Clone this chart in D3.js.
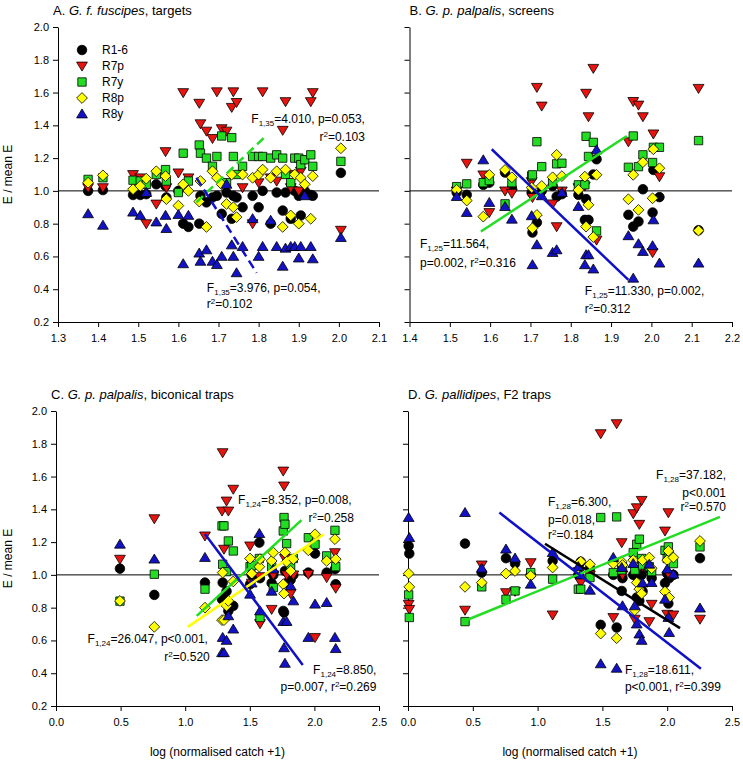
<!DOCTYPE html>
<html>
<head>
<meta charset="utf-8">
<script src="https://cdn.jsdelivr.net/npm/d3@7"></script>
<style>
body { margin: 0; background: #fff; }
text { font-family: "Liberation Sans", Arial, sans-serif; fill: #000; }
</style>
</head>
<body>
<script>
// series, in legend / drawing order
var series = ["R1-6", "R7p", "R7y", "R8p", "R8y"];

// ---- panel A: G. f. fuscipes, targets ----
var xA    = [1.375,1.412,1.487,1.505,1.52,1.545,1.568,1.57,1.60,1.612,1.625,1.652,1.655,1.67,1.685,1.696,1.708,1.72,1.733,1.737,1.745,1.76,1.785,1.80,1.81,1.83,1.845,1.86,1.867,1.88,1.89,1.90,1.905,1.915,1.93,1.935,2.005];
var r16A  = [1.00,1.005,0.975,0.975,0.98,1.04,1.03,0.96,1.00,0.80,0.78,0.80,0.97,0.93,0.96,0.97,0.86,0.99,0.83,0.97,0.96,0.90,0.97,0.90,1.00,0.80,0.99,0.88,0.99,0.83,1.00,0.97,0.85,1.00,0.975,0.97,1.11];
var r7pA  = [1.02,1.02,1.10,1.08,0.80,0.92,1.24,1.02,1.11,1.60,1.08,1.535,1.41,1.365,1.32,1.605,1.38,1.365,1.51,1.605,1.54,1.02,0.80,1.05,1.605,1.08,1.06,1.37,1.545,1.02,1.10,1.00,1.12,1.19,1.545,1.60,0.76];
var r7yA  = [1.07,1.08,1.065,1.06,1.04,1.10,1.13,1.06,0.99,1.23,1.06,1.28,1.23,1.20,1.15,1.21,1.335,1.05,1.325,1.21,1.10,1.15,1.21,1.21,1.21,1.20,1.22,1.20,1.10,1.05,1.20,1.20,1.16,1.19,1.22,1.15,1.18];
var r8pA  = [1.05,1.095,1.01,1.03,1.075,1.12,1.09,0.95,0.91,1.04,1.00,0.935,1.06,0.78,1.12,1.08,1.04,0.92,1.10,0.90,0.84,1.10,1.08,1.10,1.13,1.08,1.12,0.78,1.13,0.85,1.10,0.80,1.08,1.04,0.83,1.09,1.26];
var r8yA  = [0.86,0.79,0.87,0.85,0.99,0.81,0.85,0.77,0.855,0.555,0.85,0.62,0.57,0.64,0.57,0.55,0.60,1.04,0.67,0.60,0.50,0.66,0.83,0.60,0.66,0.82,0.66,0.54,0.65,0.66,0.66,0.59,0.66,0.97,0.66,0.585,0.715];

// ---- panel B: G. p. palpalis, screens ----
var xB    = [1.517,1.542,1.583,1.598,1.637,1.654,1.703,1.705,1.716,1.728,1.755,1.765,1.778,1.819,1.835,1.838,1.844,1.856,1.864,1.943,1.955,1.968,1.979,2.003,2.005,2.02,2.117];
var r16B  = [0.99,0.976,1.037,1.05,1.112,1.016,0.99,0.746,0.807,1.00,1.03,0.965,0.98,0.976,0.823,0.95,0.823,1.10,1.193,0.854,0.782,0.813,1.01,0.868,1.128,0.962,0.76];
var r7pB  = [1.00,1.169,1.098,0.868,1.00,0.986,1.057,0.96,1.632,1.518,0.921,0.782,1.00,1.02,1.03,1.596,1.453,1.748,0.70,1.30,1.546,1.524,1.453,0.624,1.348,1.087,1.626];
var r7yB  = [1.026,1.043,1.05,1.063,0.921,1.05,1.091,1.098,1.30,1.148,1.05,1.165,1.169,1.037,1.037,1.333,1.21,1.296,0.756,1.144,1.335,1.148,1.22,1.173,1.266,1.266,1.307];
var r8pB  = [1.006,0.941,0.843,1.098,1.128,1.083,1.02,0.772,0.853,1.03,1.083,1.22,1.09,1.006,1.087,0.782,0.915,0.718,1.098,0.949,1.098,0.884,1.175,0.955,1.254,1.138,0.758];
var r8yB  = [0.965,0.868,1.189,0.929,0.904,0.827,0.848,0.549,0.671,0.97,0.624,0.64,0.99,0.904,0.549,0.61,0.61,0.523,1.25,0.726,0.467,0.677,0.63,0.665,0.823,0.559,0.559];

// ---- panel C: G. p. palpalis, biconical traps ----
var xC    = [0.495,0.761,1.153,1.285,1.29,1.30,1.32,1.334,1.372,1.502,1.515,1.574,1.579,1.669,1.682,1.759,1.765,1.772,1.785,1.816,1.837,1.953,2.005,2.095,2.159,2.165];
var r16C  = [1.038,0.878,0.953,0.851,0.953,0.851,0.90,0.78,0.811,0.943,1.00,1.197,0.98,0.95,1.00,0.78,0.77,1.024,0.95,0.97,1.00,1.014,1.13,1.014,1.035,0.943];
var r7pC  = [1.096,1.343,1.238,1.39,1.746,1.157,1.451,1.39,1.523,1.177,0.95,0.99,0.703,0.79,1.00,1.634,1.543,1.10,1.00,0.886,1.00,1.004,0.618,0.984,1.136,0.919];
var r7yC  = [0.84,1.004,0.913,1.299,1.065,1.299,1.02,1.207,1.146,1.05,1.055,1.10,0.74,1.05,0.923,1.268,1.35,1.309,1.191,1.05,1.10,1.227,1.187,1.116,1.272,1.05];
var r8pC  = [0.841,0.683,0.80,0.724,1.014,0.724,0.811,0.841,0.96,1.10,1.008,1.05,1.096,1.085,1.136,0.943,0.886,1.136,1.08,1.024,1.096,1.15,1.248,1.085,1.218,1.096];
var r8yC  = [1.187,1.096,1.106,0.525,0.618,0.525,0.60,0.75,0.669,0.882,0.95,1.252,0.78,0.90,1.035,0.715,0.555,0.46,0.715,0.933,0.841,0.618,0.821,0.831,0.618,0.55];

// ---- panel D: G. pallidipes, F2 traps ----
var xD    = [0.005,0.01,0.44,0.569,0.756,0.826,0.947,1.116,1.314,1.333,1.404,1.487,1.584,1.61,1.649,1.655,1.738,1.75,1.765,1.785,1.803,1.81,1.862,1.88,1.983,2.00,2.009,2.015,2.048,2.253];
var r16D  = [1.177,1.13,1.191,1.014,1.102,1.069,1.00,1.085,1.00,1.08,1.04,0.695,1.00,0.679,0.902,0.98,1.00,1.00,0.862,0.841,1.00,0.90,1.035,0.98,0.95,1.008,0.825,0.98,1.00,1.102];
var r7pD  = [0.821,0.79,0.785,1.061,0.892,0.90,1.075,0.756,1.02,0.953,1.00,1.862,0.74,1.923,1.197,1.00,1.374,0.73,1.41,1.309,1.455,1.05,0.715,0.821,1.268,0.76,1.38,1.00,0.756,0.73];
var r7yD  = [0.878,0.74,0.715,0.927,0.851,0.902,1.014,0.974,0.913,0.913,0.984,1.35,1.014,1.354,1.03,1.05,1.136,1.029,1.187,1.218,1.10,1.06,1.05,1.02,1.15,1.10,1.171,1.12,1.069,1.171];
var r8pD  = [1.008,0.927,0.927,0.953,1.008,1.024,0.994,1.045,1.03,1.081,1.065,0.642,1.069,0.614,1.08,1.06,1.09,0.785,0.953,0.913,0.886,1.09,1.106,1.04,0.898,1.09,1.146,0.862,1.106,1.207];
var r8yD  = [1.35,1.227,1.38,1.04,1.157,1.102,0.943,1.136,1.05,1.00,0.906,0.457,1.106,0.43,1.045,0.811,1.069,0.811,0.70,0.639,0.60,0.95,1.065,0.953,0.851,1.035,0.74,0.648,1.004,0.797];

// regression line end points [x1, y1, x2, y2]
var fitA = { R7y: [1.645, 0.93, 1.818, 1.335], R8y: [1.645, 1.08, 1.795, 0.50] };
var fitB = { R7y: [1.577, 0.752, 1.939, 1.335], R8y: [1.604, 1.254, 1.943, 0.457] };
var fitC = { R7y: [1.089, 0.75, 1.90, 1.334], R8p: [1.02, 0.683, 2.074, 1.248], R8y: [1.153, 1.25, 1.91, 0.45] };
var fitD = { "R1-6": [1.057, 1.19, 2.099, 0.675], R7y: [0.44, 0.72, 2.407, 1.354], R8y: [0.705, 1.38, 2.26, 0.427] };

// statistics text
var statsA = ["F_{1,35}=4.010, p=0.053,", "r^{2}=0.103", "F_{1,35}=3.976, p=0.054,", "r^{2}=0.102"];
var statsB = ["F_{1,25}=11.564,", "p=0.002, r^{2}=0.316", "F_{1,25}=11.330, p=0.002,", "r^{2}=0.312"];
var statsC = ["F_{1,24}=8.352, p=0.008,", "r^{2}=0.258", "F_{1,24}=26.047, p<0.001,", "r^{2}=0.520", "F_{1,24}=8.850,", "p=0.007, r^{2}=0.269"];
var statsD = ["F_{1,28}=6.300,", "p=0.018,", "r^{2}=0.184", "F_{1,28}=37.182,", "p<0.001", "r^{2}=0.570", "F_{1,28}=18.611,", "p<0.001, r^{2}=0.399"];

var ticksY = [0.2,0.4,0.6,0.8,1.0,1.2,1.4,1.6,1.8,2.0];

var colors = { "R1-6": "#000000", "R7p": "#e8140f", "R7y": "#22dd22", "R8p": "#ffff00", "R8y": "#1212c4" };
var lineColors = { "R1-6": "#000000", "R7y": "#22dd22", "R8p": "#ffff00", "R8y": "#1010c8" };

var W = 743, H = 762;
var svg = d3.select("body").append("svg").attr("width", W).attr("height", H);

function marker(name) {
  if (name === "R1-6") return d3.symbol().type(d3.symbolCircle).size(72)();
  if (name === "R7y") return d3.symbol().type(d3.symbolSquare).size(70)();
  if (name === "R8p") { var h = 5.4; return "M0," + (-h) + "L" + h + ",0L0," + h + "L" + (-h) + ",0Z"; }
  var r = 6, s = name === "R7p" ? -1 : 1;
  return "M0," + (-s * r * 0.85) + "L" + (r * 0.9) + "," + (s * r * 0.65) + "L" + (-r * 0.9) + "," + (s * r * 0.65) + "Z";
}

// write text with _{sub} and ^{sup}
function rich(t, str) {
  var shift = 0;
  str.split(/(_\{[^}]*\}|\^\{[^}]*\})/).forEach(function(part) {
    if (!part) return;
    var ts = t.append("tspan");
    if (part[0] === "_" || part[0] === "^") {
      var d = part[0] === "_" ? 3 : -4;
      ts.attr("dy", d - shift).attr("font-size", 8).text(part.slice(2, -1));
      shift = d;
    } else {
      ts.attr("dy", -shift).text(part);
      shift = 0;
    }
  });
}

function panel(p) {
  var x = d3.scaleLinear().domain(p.xdom).range([p.left, p.right]);
  var y = d3.scaleLinear().domain([0.2, 2.0]).range([p.bottom, p.top]);

  // reference line at 1
  svg.append("line")
    .attr("x1", x(p.xdom[0])).attr("x2", x(p.xdom[1]))
    .attr("y1", y(1)).attr("y2", y(1))
    .attr("stroke", "#000").attr("stroke-width", 1);

  var gx = svg.append("g").attr("transform", "translate(0," + p.bottom + ")")
    .call(d3.axisBottom(x).tickValues(p.xticks).tickFormat(d3.format(".1f"))
      .tickSize(5).tickSizeOuter(0).tickPadding(7));
  var gy = svg.append("g").attr("transform", "translate(" + p.left + ",0)")
    .call(d3.axisLeft(y).tickValues(ticksY).tickFormat(p.ylab ? d3.format(".1f") : "")
      .tickSize(5).tickSizeOuter(0).tickPadding(4));
  [gx, gy].forEach(function(g) {
    g.selectAll("text").attr("font-size", 11).attr("font-family", "Liberation Sans, Arial, sans-serif");
    g.select(".domain").attr("stroke-width", 1);
  });

  // points
  series.forEach(function(s, i) {
    var ys = p.ys[i];
    svg.append("g").selectAll("path").data(p.xs)
      .enter().append("path")
      .attr("d", marker(s))
      .attr("transform", function(d, j) { return "translate(" + x(d) + "," + y(ys[j]) + ")"; })
      .attr("fill", colors[s]).attr("stroke", "#000").attr("stroke-width", 0.8);
  });

  // fits
  Object.keys(p.fits).forEach(function(s) {
    var f = p.fits[s];
    svg.append("line")
      .attr("x1", x(f[0])).attr("y1", y(f[1])).attr("x2", x(f[2])).attr("y2", y(f[3]))
      .attr("stroke", lineColors[s]).attr("stroke-width", 2.5)
      .attr("stroke-dasharray", p.dashed ? "9,5" : null);
  });

  // stats text
  p.notes.forEach(function(n, i) {
    var t = svg.append("text").attr("x", x(n[0])).attr("y", y(n[1]))
      .attr("font-size", 12).attr("text-anchor", n[2]);
    rich(t, p.stats[i]);
  });

  // title
  var tt = svg.append("text").attr("x", p.left - (p.ylab ? 5 : 0)).attr("y", p.top - 12).attr("font-size", 13);
  tt.append("tspan").text(p.title[0]);
  tt.append("tspan").attr("font-style", "italic").text(p.title[1]);
  tt.append("tspan").text(p.title[2]);

  if (p.ylab) {
    svg.append("text").attr("font-size", 12).attr("text-anchor", "middle")
      .attr("transform", "translate(12," + ((p.top + p.bottom) / 2) + ") rotate(-90)")
      .text("E / mean E");
  }
  if (p.xlab) {
    svg.append("text").attr("font-size", 12).attr("text-anchor", "middle")
      .attr("x", (p.left + p.right) / 2).attr("y", 756)
      .text("log (normalised catch +1)");
  }
}

var tenths = function(a, b) { return d3.range(a, b + 1).map(function(d) { return d / 10; }); };

panel({ left: 58, right: 379, top: 27, bottom: 322, xdom: [1.3, 2.1], xticks: tenths(13, 21),
  xs: xA, ys: [r16A, r7pA, r7yA, r8pA, r8yA], fits: fitA, dashed: true, ylab: true,
  title: ["A. ", "G. f. fuscipes", ", targets"], stats: statsA,
  notes: [[2.065, 1.415, "end"], [2.065, 1.305, "end"], [1.671, 0.384, "start"], [1.671, 0.287, "start"]] });

panel({ left: 409.5, right: 732, top: 27, bottom: 322, xdom: [1.4, 2.2], xticks: tenths(14, 22),
  xs: xB, ys: [r16B, r7pB, r7yB, r8pB, r8yB], fits: fitB,
  title: ["B. ", "G. p. palpalis", ", screens"], stats: statsB,
  notes: [[1.426, 0.652, "start"], [1.426, 0.537, "start"], [1.835, 0.366, "start"], [1.835, 0.256, "start"]] });

panel({ left: 56, right: 379, top: 411, bottom: 706, xdom: [0, 2.5], xticks: [0, 0.5, 1, 1.5, 2, 2.5],
  xs: xC, ys: [r16C, r7pC, r7yC, r8pC, r8yC], fits: fitC, ylab: true, xlab: true,
  title: ["C. ", "G. p. palpalis", ", biconical traps"], stats: statsC,
  notes: [[1.409, 1.433, "start"], [2.306, 1.323, "end"], [1.176, 0.585, "end"], [1.19, 0.476, "end"],
          [2.48, 0.396, "end"], [2.48, 0.293, "end"]] });

panel({ left: 408, right: 732, top: 411, bottom: 706, xdom: [0, 2.5], xticks: [0, 0.5, 1, 1.5, 2, 2.5],
  xs: xD, ys: [r16D, r7pD, r7yD, r8pD, r8yD], fits: fitD, xlab: true,
  title: ["D. ", "G. pallidipes", ", F2 traps"], stats: statsD,
  notes: [[1.08, 1.421, "start"], [1.08, 1.311, "start"], [1.08, 1.22, "start"],
          [2.454, 1.585, "end"], [2.454, 1.476, "end"], [2.454, 1.39, "end"],
          [1.674, 0.396, "start"], [1.674, 0.293, "start"]] });

// legend in panel A
var leg = svg.append("g");
series.forEach(function(s, i) {
  var yy = 50 + i * 16;
  leg.append("path").attr("d", marker(s)).attr("transform", "translate(82," + yy + ")")
    .attr("fill", colors[s]).attr("stroke", "#000").attr("stroke-width", 0.8);
  leg.append("text").attr("x", 102).attr("y", yy + 4).attr("font-size", 12).text(s);
});
</script>
</body>
</html>
